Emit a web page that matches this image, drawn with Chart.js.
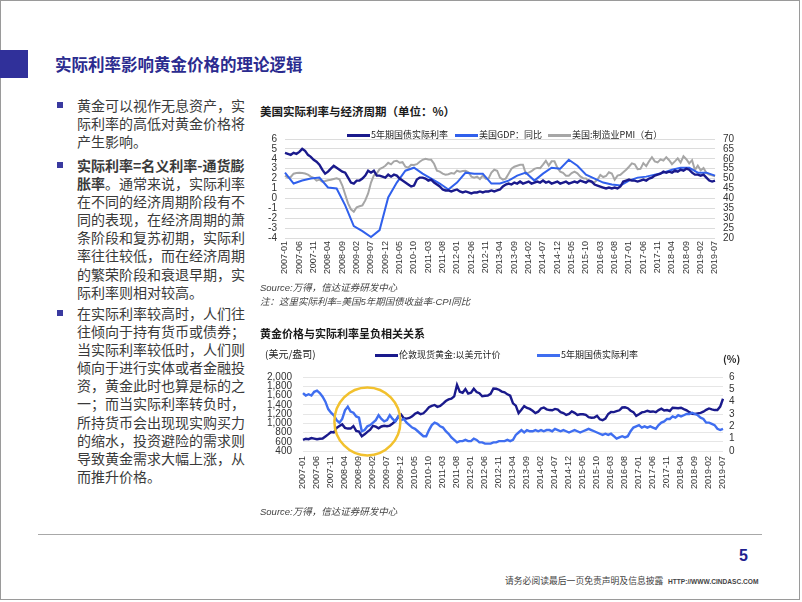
<!DOCTYPE html>
<html><head><meta charset="utf-8">
<script src="https://cdn.jsdelivr.net/npm/chart.js@4.4.1/dist/chart.umd.min.js"></script>
<style>
html,body{margin:0;padding:0;background:#fff;}
body{width:802px;height:602px;position:relative;overflow:hidden;font-family:"Noto Sans CJK SC","Liberation Sans",sans-serif;}
.abs{position:absolute;white-space:nowrap;}
.frame{position:absolute;left:0;top:0;width:800px;height:600px;border:1px solid #9a9a9a;box-sizing:border-box;}
.sq{position:absolute;left:0;top:50px;width:28px;height:28px;background:#30309a;}
.title{left:55px;top:52px;font-size:16.5px;font-weight:bold;color:#2b2b8f;line-height:24px;}
.body{left:77px;font-size:14px;line-height:18.1px;color:#3a3a3a;}
.bul{position:absolute;left:57px;width:6px;height:6px;background:#3a3aa0;}
.ct{left:260px;font-size:11.5px;font-weight:bold;color:#1a1a1a;line-height:16px;}
.src{left:260px;font-size:9.5px;font-style:italic;color:#444;line-height:12px;font-family:"Liberation Sans","Noto Sans CJK SC",sans-serif;}
.lg{font-size:9px;color:#222;line-height:12px;}
.sw{position:absolute;height:3px;}
canvas{position:absolute;}
</style>
</head><body>
<div class="frame"></div>
<div class="sq"></div>
<div class="abs title">实际利率影响黄金价格的理论逻辑</div>

<div class="bul" style="top:102px"></div>
<div class="abs body" style="top:96px">黄金可以视作无息资产，实<br>际利率的高低对黄金价格将<br>产生影响。</div>
<div class="bul" style="top:162px"></div>
<div class="abs body" style="top:156px"><b>实际利率=名义利率-通货膨</b><br><b>胀率</b>。通常来说，实际利率<br>在不同的经济周期阶段有不<br>同的表现，在经济周期的萧<br>条阶段和复苏初期，实际利<br>率往往较低，而在经济周期<br>的繁荣阶段和衰退早期，实<br>际利率则相对较高。</div>
<div class="bul" style="top:310px"></div>
<div class="abs body" style="top:304px">在实际利率较高时，人们往<br>往倾向于持有货币或债券；<br>当实际利率较低时，人们则<br>倾向于进行实体或者金融投<br>资，黄金此时也算是标的之<br>一；而当实际利率转负时，<br>所持货币会出现现实购买力<br>的缩水，投资避险的需求则<br>导致黄金需求大幅上涨，从<br>而推升价格。</div>

<div class="abs ct" style="top:103px">美国实际利率与经济周期（单位：%）</div>
<canvas id="c1" width="505" height="165" style="left:250px;top:125px"></canvas>
<div class="sw" style="left:347px;top:134px;width:23px;background:#1a1a8c"></div>
<div class="abs lg" style="left:371px;top:129px">5年期国债实际利率</div>
<div class="sw" style="left:455px;top:134px;width:23px;background:#3060ec"></div>
<div class="abs lg" style="left:479px;top:129px">美国GDP：同比</div>
<div class="sw" style="left:548px;top:134px;width:23px;background:#a6a6a6"></div>
<div class="abs lg" style="left:572px;top:129px">美国:制造业PMI（右）</div>
<div class="abs src" style="top:282px">Source:万得，信达证券研发中心</div>
<div class="abs src" style="top:296px">注：这里实际利率=美国5年期国债收益率-CPI同比</div>

<div class="abs ct" style="top:325px;font-size:11px">黄金价格与实际利率呈负相关关系</div>
<div class="abs lg" style="left:265px;top:348px;font-size:10px">(美元/盎司)</div>
<div class="sw" style="left:375px;top:354px;width:23px;background:#1a1a8c"></div>
<div class="abs lg" style="left:399px;top:349px">伦敦现货黄金:以美元计价</div>
<div class="sw" style="left:537px;top:354px;width:23px;background:#3f6ef0"></div>
<div class="abs lg" style="left:561px;top:349px">5年期国债实际利率</div>
<div class="abs lg" style="left:723px;top:353px;font-size:10px;font-weight:bold">(%)</div>
<canvas id="c2" width="505" height="140" style="left:250px;top:360px"></canvas>
<div class="abs src" style="top:506px">Source:万得，信达证券研发中心</div>

<div style="position:absolute;left:38px;top:534px;width:724px;height:1px;background:#a8a8a8"></div>
<div class="abs" style="left:739px;top:545px;font-size:16px;font-weight:bold;color:#1f1f8f;font-family:'Liberation Sans',sans-serif;line-height:22px">5</div>
<div class="abs" style="left:505px;top:575px;font-size:8.8px;color:#444;line-height:12px">请务必阅读最后一页免责声明及信息披露</div>
<div class="abs" style="left:668px;top:577px;font-size:6.6px;font-weight:bold;color:#444;line-height:10px;font-family:'Liberation Sans',sans-serif">HTTP://WWW.CINDASC.COM</div>

<script>
// ---------- data ----------
const startYear = 2007, monthCount = 151; // 2007-01 .. 2019-07
const months = [];
for (let i = 0; i < monthCount; i++) {
  const y = startYear + Math.floor(i / 12), m = i % 12 + 1;
  months.push(y + '-' + (m < 10 ? '0' : '') + m);
}
const tickEvery = 5;

// Chart 1: 5-year real rate (%), monthly
const realRate1 = [4.6,4.5,4.4,4.6,4.5,4.7,5.0,4.8,4.4,4.2,3.9,3.7,3.4,2.9,2.5,2.7,3.0,3.3,3.1,2.9,
2.7,2.6,2.1,1.6,1.5,1.8,1.8,2.0,2.3,2.8,2.6,2.8,2.3,2.3,2.2,2.1,2.4,2.2,2.4,2.3,
2.0,1.8,1.6,1.4,1.2,1.3,1.9,2.1,2.1,2.0,1.8,1.9,1.6,1.4,1.2,0.9,0.8,0.8,0.7,0.8,
0.9,0.7,0.6,0.7,0.6,0.5,0.6,0.6,0.7,0.6,0.7,0.7,0.8,0.7,0.8,0.9,1.2,1.4,1.5,1.4,
1.6,1.5,1.7,1.5,1.6,1.7,1.5,1.6,1.7,1.6,1.8,1.6,1.7,1.5,1.6,1.7,1.5,1.6,1.7,1.5,
1.6,1.7,1.6,1.8,1.7,1.6,1.8,1.7,1.4,1.3,1.2,1.1,1.0,1.1,1.0,1.1,1.0,1.2,1.7,1.8,
1.9,1.8,1.8,1.7,1.8,1.9,1.8,2.0,2.1,2.3,2.4,2.5,2.7,2.6,2.7,2.6,2.8,2.7,2.9,2.8,
3.0,2.9,2.6,2.4,2.4,2.3,2.4,2.1,1.8,1.7,1.8];
// Chart 1: US GDP yoy (%), quarterly (every 3rd month from 2007-01)
const gdpQuarterly = [2.6,1.5,1.8,2.0,2.1,1.1,1.0,-0.7,-2.8,-3.3,-3.9,-3.2,0.1,1.6,2.8,3.1,2.5,2.0,1.5,0.9,
1.6,2.6,2.5,2.5,1.5,1.5,1.8,2.3,2.6,1.8,2.5,3.1,3.0,3.9,3.3,2.4,2.0,1.6,1.4,1.3,
1.8,2.1,2.2,2.4,2.6,2.9,3.1,3.1,2.6,2.6,2.3];
// Chart 1: US manufacturing PMI (right axis), monthly
const pmi = [51.5,50.5,50.8,52.5,52.8,53.0,52.8,52.6,52.0,51.0,50.4,49.0,49.5,48.5,48.8,49.2,49.4,49.8,50.2,49.6,
46.5,42.0,37.5,34.5,33.3,35.5,36.0,36.5,39.0,42.5,48.0,51.6,52.6,54.8,55.5,56.5,58.0,57.2,58.7,59.0,
58.0,58.3,56.0,55.5,57.0,56.9,57.3,58.5,59.5,60.0,59.7,59.5,57.5,54.0,53.5,52.5,52.0,52.2,52.8,52.5,
54.0,53.5,53.8,54.0,53.2,51.0,50.5,51.0,49.8,51.5,49.9,50.0,53.0,54.5,54.0,50.5,49.5,50.0,52.5,55.0,
56.0,56.5,57.0,57.0,52.5,53.0,53.7,54.9,55.4,55.3,57.1,59.0,56.6,58.7,58.7,55.5,53.5,52.9,51.5,51.5,
52.8,53.5,52.7,51.1,50.2,50.1,48.6,48.2,48.2,49.5,51.8,50.8,51.3,53.2,52.6,49.4,51.5,51.9,53.2,54.5,
56.0,57.7,57.2,54.8,54.9,57.8,56.3,58.8,60.8,58.7,58.2,59.7,59.1,60.8,59.3,57.3,58.7,60.2,58.1,61.3,
59.8,57.7,59.3,54.3,56.6,54.2,55.3,52.8,52.1,51.7,51.2];

// Chart 2: London spot gold (USD/oz), monthly
const gold = [640,665,655,680,667,655,665,670,715,760,810,800,900,940,975,900,885,885,940,835,
820,720,760,815,860,945,925,890,930,945,935,950,995,1045,1140,1190,1110,1100,1115,1150,
1205,1235,1195,1215,1275,1345,1375,1395,1355,1375,1425,1480,1515,1530,1580,1830,1680,1660,1740,1640,
1660,1745,1675,1650,1585,1595,1600,1635,1750,1745,1725,1685,1670,1625,1595,1430,1380,1220,1290,1370,
1330,1310,1270,1220,1250,1320,1340,1300,1285,1280,1310,1295,1240,1220,1180,1200,1255,1225,1180,1195,
1195,1180,1130,1120,1125,1160,1085,1065,1100,1200,1245,1240,1260,1280,1340,1345,1325,1270,1240,1160,
1195,1235,1245,1270,1250,1255,1240,1285,1315,1275,1285,1265,1335,1330,1325,1335,1305,1280,1240,1205,
1200,1215,1225,1250,1290,1320,1300,1285,1285,1360,1530];
// Chart 2: 5-year real rate (%), monthly (right axis)
const realRate2 = [4.7,4.5,4.6,4.5,4.8,4.9,4.7,4.4,4.0,3.4,3.1,2.9,2.5,2.3,2.6,3.3,3.6,3.2,3.1,2.8,
2.7,1.6,1.7,2.0,2.1,2.3,2.5,2.9,2.6,2.4,2.5,2.9,2.6,2.4,2.8,2.5,2.6,2.3,2.1,1.9,
1.8,1.6,1.4,1.2,1.2,1.7,2.1,2.3,2.2,2.0,1.9,1.6,1.4,1.1,0.9,0.7,0.8,0.8,0.9,0.8,
0.8,1.0,0.9,0.7,0.7,0.6,0.6,0.6,0.7,0.7,0.8,0.8,0.8,0.9,0.8,0.9,1.3,1.5,1.7,1.5,
1.7,1.6,1.6,1.7,1.6,1.7,1.6,1.7,1.7,1.6,1.8,1.7,1.6,1.7,1.6,1.5,1.6,1.7,1.6,1.5,
1.6,1.7,1.8,1.7,1.6,1.5,1.4,1.3,1.4,1.3,1.4,1.2,1.0,1.1,1.2,1.1,1.2,1.6,1.9,2.0,
2.1,1.9,2.0,1.9,2.0,1.9,1.8,2.1,2.3,2.4,2.6,2.6,2.8,2.7,2.9,2.8,2.9,3.0,3.0,3.1,
3.0,2.9,2.7,2.6,2.3,2.3,2.2,2.1,1.8,1.7,1.8];

// highlight circle (month label, gold value)
const highlight = { month: '2008-12', value: 1040 };

// ---------- helpers ----------
const gdpMonthly = months.map((_, i) => (i % 3 === 0 ? gdpQuarterly[i / 3] : null));
const tickFont = { family: 'Liberation Sans', size: 10 };
const xFont = { family: 'Liberation Sans', size: 9 };
function fixW(w) { return function (s) { s.width = w; }; }
function fixH(h) { return function (s) { s.height = h; }; }
function xAxis(h, pad) {
  return {
    type: 'category',
    grid: { display: false, drawTicks: false },
    border: { display: false },
    ticks: {
      autoSkip: false, maxRotation: 90, minRotation: 90, padding: pad,
      color: '#333', font: xFont,
      callback: function (v, i) { return i % tickEvery === 0 ? months[i] : ''; }
    },
    afterFit: fixH(h)
  };
}

Chart.defaults.animation = false;

new Chart(document.getElementById('c1'), {
  type: 'line',
  data: {
    labels: months,
    datasets: [
      { data: realRate1, borderColor: '#1a1a8c', borderWidth: 2.4, pointRadius: 0, yAxisID: 'y', tension: 0 },
      { data: gdpMonthly, borderColor: '#3060ec', borderWidth: 2, pointRadius: 0, yAxisID: 'y', spanGaps: true, tension: 0 },
      { data: pmi, borderColor: '#a6a6a6', borderWidth: 2, pointRadius: 0, yAxisID: 'y1', tension: 0 }
    ]
  },
  options: {
    responsive: false,
    layout: { padding: { top: 8, left: 0, right: 0, bottom: 0 } },
    plugins: { legend: { display: false }, tooltip: { enabled: false } },
    scales: {
      x: xAxis(52, 3),
      y: {
        position: 'left', min: -4, max: 6,
        ticks: { stepSize: 1, autoSkip: false, padding: 8, color: '#333', font: tickFont },
        grid: { color: '#dcdcdc', drawTicks: false },
        border: { display: false },
        afterFit: fixW(35)
      },
      y1: {
        position: 'right', min: 20, max: 70,
        ticks: { stepSize: 5, autoSkip: false, padding: 8, color: '#333', font: tickFont },
        grid: { drawOnChartArea: false, drawTicks: false },
        border: { display: false },
        afterFit: fixW(40)
      }
    }
  }
});

const circlePlugin = {
  id: 'circle',
  afterDatasetsDraw(chart) {
    const xs = chart.scales.x, ys = chart.scales.y;
    const cx = xs.getPixelForValue(months.indexOf(highlight.month));
    const cy = ys.getPixelForValue(highlight.value);
    const ctx = chart.ctx;
    ctx.save();
    ctx.beginPath();
    ctx.ellipse(cx, cy, 33, 34, 0, 0, Math.PI * 2);
    ctx.lineWidth = 2.5;
    ctx.strokeStyle = '#f2c12e';
    ctx.stroke();
    ctx.restore();
  }
};

new Chart(document.getElementById('c2'), {
  type: 'line',
  data: {
    labels: months,
    datasets: [
      { data: realRate2, borderColor: '#3f6ef0', borderWidth: 2.4, pointRadius: 0, yAxisID: 'y1', tension: 0 },
      { data: gold, borderColor: '#1a1a8c', borderWidth: 2.4, pointRadius: 0, yAxisID: 'y', tension: 0 }
    ]
  },
  options: {
    responsive: false,
    layout: { padding: { top: 7, left: 0, right: 0, bottom: 0 } },
    plugins: { legend: { display: false }, tooltip: { enabled: false } },
    scales: {
      x: xAxis(49, 5),
      y: {
        position: 'left', min: 400, max: 2000,
        ticks: { stepSize: 200, autoSkip: false, padding: 11, color: '#333', font: tickFont,
          callback: function (v) { return v.toLocaleString('en-US'); } },
        grid: { color: '#e6e6e6', drawTicks: false },
        border: { display: false },
        afterFit: fixW(53)
      },
      y1: {
        position: 'right', min: 0, max: 6,
        ticks: { stepSize: 1, autoSkip: false, padding: 6, color: '#333', font: tickFont },
        grid: { drawOnChartArea: false, drawTicks: false },
        border: { display: false },
        afterFit: fixW(32)
      }
    }
  },
  plugins: [circlePlugin]
});
</script>
</body></html>
